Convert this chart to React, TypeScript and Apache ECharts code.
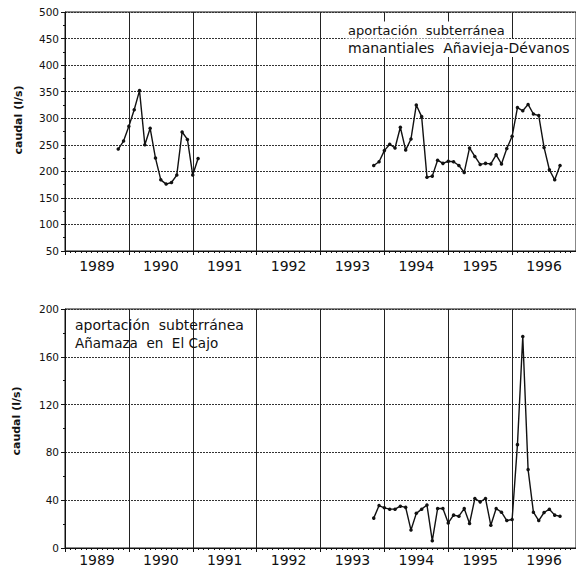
import React, { useEffect, useRef } from "react";
import * as echarts from "echarts";

const yearLabels = ["1989", "1990", "1991", "1992", "1993", "1994", "1995", "1996"];

// Top chart: aportación subterránea, manantiales Añavieja-Dévanos (monthly, l/s)
const topStartA = [1989, 11];
const topValuesA = [242, 257, 285, 316, 352, 250, 281, 225, 184, 176, 179, 193, 274, 260, 193, 224];
const topStartB = [1993, 11];
const topValuesB = [
  211, 218, 239, 251, 244, 283, 240, 261, 325, 303, 189, 191, 221, 215, 219, 218, 211, 198,
  244, 228, 213, 215, 214, 231, 214, 243, 266, 320, 314, 326, 308, 305, 245, 203, 184, 211,
];

// Bottom chart: aportación subterránea Añamaza en El Cajo (monthly, l/s)
const botStart = [1993, 11];
const botValues = [
  25, 35.5, 33.6, 32.5, 32.5, 35, 34, 15, 29, 32.5, 36, 6, 33, 33, 21, 27.5, 26.6, 33,
  20.5, 41.4, 38.6, 41.4, 19, 33, 30, 23, 23.8, 86.5, 177, 65.6, 30, 23, 29.7, 32.5, 27.5, 26.6,
];

const topAnnot = ["aportación  subterránea", "manantiales  Añavieja-Dévanos"];
const botAnnot = ["aportación  subterránea", "Añamaza  en  El Cajo"];
const yTitle = "caudal (l/s)";

function monthly(start: number[], values: number[]) {
  return values.map((v, i) => {
    const m = start[1] - 1 + i;
    return [start[0] + m / 12, v];
  });
}

const FONT = "DejaVu Sans";
const INK = "#111";

export default function App() {
  const ref = useRef<HTMLDivElement>(null);
  useEffect(() => {
    if (!ref.current) return;
    const chart = echarts.init(ref.current, null, { renderer: "svg" });
    const gridL = 65;
    const gridW = 511;
    const valueX = (gi: number) => ({
      type: "value",
      gridIndex: gi,
      min: 1989,
      max: 1997,
      interval: 1,
      position: "bottom",
      axisLine: { show: true, lineStyle: { color: INK, width: 1 } },
      axisTick: { show: true, length: 4, lineStyle: { color: INK } },
      minorTick: { show: true, splitNumber: 12, length: 2, lineStyle: { color: INK } },
      axisLabel: { show: false },
      splitLine: { show: true, lineStyle: { color: "#222", width: 1 } },
      minorSplitLine: { show: false },
    });
    const catX = (gi: number, margin: number) => ({
      type: "category",
      gridIndex: gi,
      position: "bottom",
      data: yearLabels,
      boundaryGap: true,
      axisLine: { show: false },
      axisTick: { show: false },
      splitLine: { show: false },
      axisLabel: { color: INK, fontSize: 14, fontFamily: FONT, margin },
    });
    const valueY = (gi: number, min: number, max: number, interval: number) => ({
      type: "value",
      gridIndex: gi,
      min,
      max,
      interval,
      axisLine: { show: true, lineStyle: { color: INK, width: 1 } },
      axisTick: { show: true, length: 4, lineStyle: { color: INK } },
      minorTick: { show: true, splitNumber: 2, length: 2, lineStyle: { color: INK } },
      axisLabel: { color: INK, fontSize: 10.5, fontFamily: FONT, margin: 6 },
      splitLine: { show: true, lineStyle: { color: "#333", width: 1, type: [2, 1] } },
    });
    const lineSeries = (xi: number, yi: number, data: number[][]) => ({
      type: "line",
      xAxisIndex: xi,
      yAxisIndex: yi,
      data,
      symbol: "circle",
      symbolSize: 3.5,
      itemStyle: { color: INK },
      lineStyle: { color: INK, width: 1.4 },
      z: 5,
    });
    const annotText = (text: string, x: number, y: number, size: number, bg: boolean) => ({
      type: "text",
      x,
      y,
      z: 100,
      style: {
        text,
        fill: INK,
        font: `${size}px "${FONT}"`,
        textAlign: "left",
        textVerticalAlign: "middle",
        backgroundColor: bg ? "#fff" : undefined,
        padding: bg ? [2, 3, 2, 3] : 0,
      },
    });
    const title = (x: number, y: number) => ({
      type: "text",
      x,
      y,
      rotation: Math.PI / 2,
      style: {
        text: yTitle,
        fill: INK,
        font: `bold 11px "${FONT}"`,
        textAlign: "center",
        textVerticalAlign: "middle",
      },
    });
    chart.setOption({
      animation: false,
      backgroundColor: "#fff",
      grid: [
        { left: gridL, top: 12, width: gridW, height: 239, show: true, borderColor: INK, borderWidth: 1 },
        { left: gridL, top: 309, width: gridW, height: 239, show: true, borderColor: INK, borderWidth: 1 },
      ],
      xAxis: [valueX(0), valueX(1), catX(0, 8), catX(1, 5)],
      yAxis: [valueY(0, 50, 500, 50), valueY(1, 0, 200, 40)],
      series: [
        lineSeries(0, 0, monthly(topStartA, topValuesA)),
        lineSeries(0, 0, monthly(topStartB, topValuesB)),
        lineSeries(1, 1, monthly(botStart, botValues)),
      ],
      graphic: [
        annotText(topAnnot[0], 345, 30, 13, true),
        annotText(topAnnot[1], 345, 48, 14, true),
        annotText(botAnnot[0], 75, 325, 14, false),
        annotText(botAnnot[1], 75, 343, 13.5, false),
        title(18, 120),
        title(16, 421),
      ],
    });
    return () => chart.dispose();
  }, []);
  return (
    <div
      ref={ref}
      style={{ position: "fixed", left: 0, top: 0, width: 576, height: 572, background: "#fff" }}
    />
  );
}
